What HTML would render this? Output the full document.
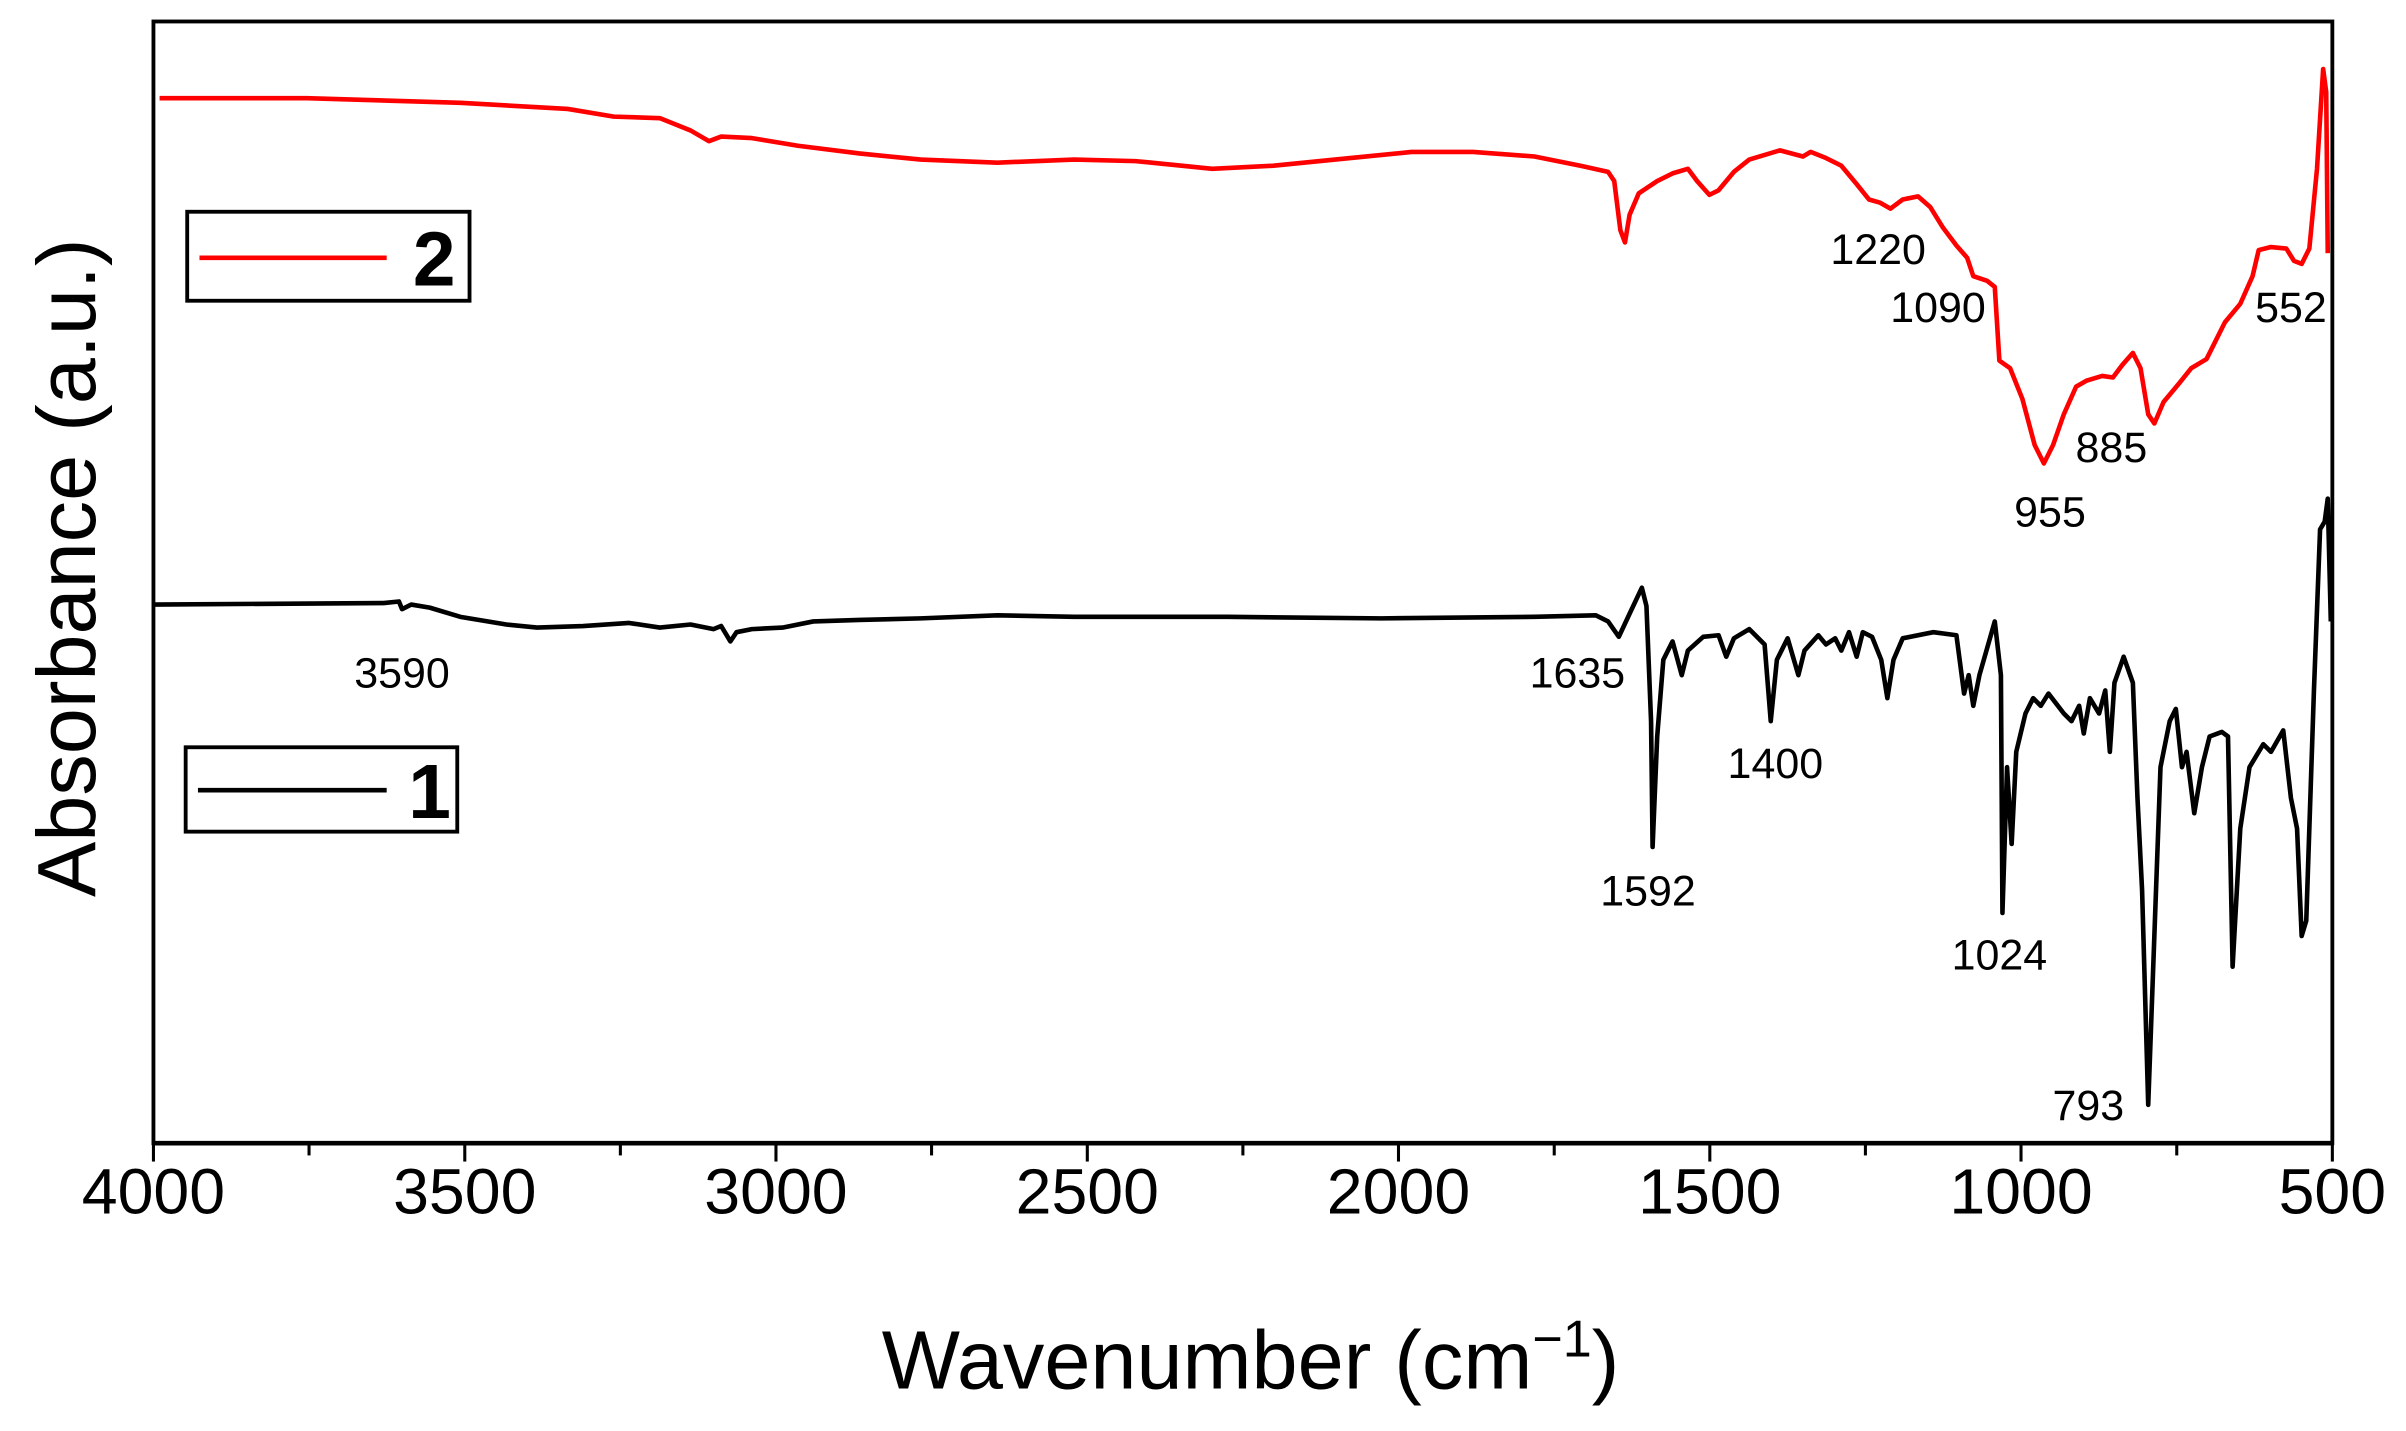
<!DOCTYPE html>
<html><head><meta charset="utf-8"><style>
html,body{margin:0;padding:0;background:#fff;}
svg{display:block;}
text{font-family:"Liberation Sans",sans-serif;}
</style></head><body>
<svg width="2406" height="1431" viewBox="0 0 1568 932.6" preserveAspectRatio="none" xmlns="http://www.w3.org/2000/svg">
<rect x="0" y="0" width="1568" height="932.6" fill="#fff"/>
<rect x="100" y="14" width="1420" height="731" fill="none" stroke="#000" stroke-width="2.5"/>
<line x1="99" y1="745" x2="1521" y2="745" stroke="#000" stroke-width="3"/>
<g stroke="#000" stroke-width="2">
<line x1="100" y1="745" x2="100" y2="757"/><line x1="201.4" y1="745" x2="201.4" y2="753"/>
<line x1="302.9" y1="745" x2="302.9" y2="757"/><line x1="404.3" y1="745" x2="404.3" y2="753"/>
<line x1="505.7" y1="745" x2="505.7" y2="757"/><line x1="607.1" y1="745" x2="607.1" y2="753"/>
<line x1="708.6" y1="745" x2="708.6" y2="757"/><line x1="810" y1="745" x2="810" y2="753"/>
<line x1="911.4" y1="745" x2="911.4" y2="757"/><line x1="1012.9" y1="745" x2="1012.9" y2="753"/>
<line x1="1114.3" y1="745" x2="1114.3" y2="757"/><line x1="1215.7" y1="745" x2="1215.7" y2="753"/>
<line x1="1317.1" y1="745" x2="1317.1" y2="757"/><line x1="1418.6" y1="745" x2="1418.6" y2="753"/>
<line x1="1520" y1="745" x2="1520" y2="757"/>
</g>
<g font-size="42" text-anchor="middle" fill="#000">
<text x="100" y="791">4000</text><text x="302.9" y="791">3500</text><text x="505.7" y="791">3000</text>
<text x="708.6" y="791">2500</text><text x="911.4" y="791">2000</text><text x="1114.3" y="791">1500</text>
<text x="1317.1" y="791">1000</text><text x="1520" y="791">500</text>
</g>
<text x="815" y="905" font-size="54" text-anchor="middle">Wavenumber (cm<tspan dy="-21" font-size="34">−1</tspan><tspan dy="21">)</tspan></text>
<text transform="translate(62,370) rotate(-90)" font-size="54" text-anchor="middle">Absorbance (a.u.)</text>
<polyline fill="none" stroke="#ff0000" stroke-width="3" stroke-linejoin="round" points="104,64 200,64 300,67 370,71 400,76 430,77 450,85 462,92 470,89 490,90 520,95 560,100 600,104 650,106 700,104 740,105 770,108 790,110 830,108 870,104 920,99 960,99 1000,102 1030,108 1048,112 1052,118 1056,150 1059,158 1062,140 1068,126 1080,118 1090,113 1100,110 1106,118 1114,127 1120,124 1130,112 1140,104 1160,98 1175,102 1180,99 1190,103 1200,108 1210,120 1218,130 1225,132 1232,136 1240,130 1250,128 1258,135 1266,148 1275,160 1282,168 1286,180 1295,183 1300,187 1303,235 1310,240 1318,260 1326,290 1332,302 1338,290 1345,270 1353,252 1360,248 1370,245 1377,246 1383,238 1390,230 1395,240 1400,270 1404,276 1410,262 1420,250 1428,240 1438,234 1450,210 1460,198 1468,180 1472,163 1480,161 1490,162 1495,170 1500,172 1505,162 1510,110 1514,45 1516,60 1517,165"/>
<polyline fill="none" stroke="#000" stroke-width="3" stroke-linejoin="round" points="100,394 250,393 260,392 262,397 268,394 280,396 300,402 330,407 350,409 380,408 410,406 430,409 450,407 465,410 470,408 476,418 480,412 490,410 510,409 530,405 560,404 600,403 650,401 700,402 800,402 900,403 1000,402 1040,401 1048,405 1055,415 1062,400 1070,383 1073,395 1076,470 1077,552 1080,480 1084,430 1090,418 1096,440 1100,424 1110,415 1120,414 1125,428 1130,416 1140,410 1150,420 1154,470 1158,430 1165,416 1172,440 1176,424 1185,414 1190,420 1196,416 1200,424 1205,412 1210,428 1214,412 1220,415 1226,430 1230,455 1234,430 1240,416 1260,412 1275,414 1280,452 1283,440 1286,460 1290,440 1300,405 1304,440 1305,595 1308,500 1311,550 1314,490 1320,465 1325,455 1330,460 1335,452 1345,465 1350,470 1355,460 1358,478 1362,455 1368,465 1372,450 1375,490 1378,445 1384,428 1390,445 1393,520 1396,580 1400,720 1404,610 1408,500 1414,470 1418,462 1422,500 1425,490 1430,530 1435,500 1440,480 1448,477 1452,480 1455,630 1460,540 1466,500 1475,485 1480,490 1488,476 1493,520 1497,540 1500,610 1503,600 1508,450 1512,345 1515,340 1517,325 1519,405"/>
<g font-size="28" text-anchor="middle" fill="#000">
<text x="1224" y="172">1220</text><text x="1263" y="210">1090</text><text x="1493" y="210">552</text>
<text x="1376" y="301">885</text><text x="1336" y="343">955</text>
<text x="262" y="448">3590</text><text x="1028" y="448">1635</text><text x="1157" y="507">1400</text>
<text x="1074" y="590">1592</text><text x="1303" y="632">1024</text><text x="1361" y="730">793</text>
</g>
<rect x="122" y="138" width="184" height="58" fill="#fff" stroke="#000" stroke-width="2.5"/>
<line x1="130" y1="168" x2="252" y2="168" stroke="#ff0000" stroke-width="3"/>
<text x="283" y="186" font-size="50" font-weight="bold" text-anchor="middle">2</text>
<rect x="121" y="487" width="177" height="55" fill="#fff" stroke="#000" stroke-width="2.5"/>
<line x1="129" y1="515" x2="252" y2="515" stroke="#000" stroke-width="3"/>
<text x="280" y="533" font-size="50" font-weight="bold" text-anchor="middle">1</text>
</svg>
</body></html>
